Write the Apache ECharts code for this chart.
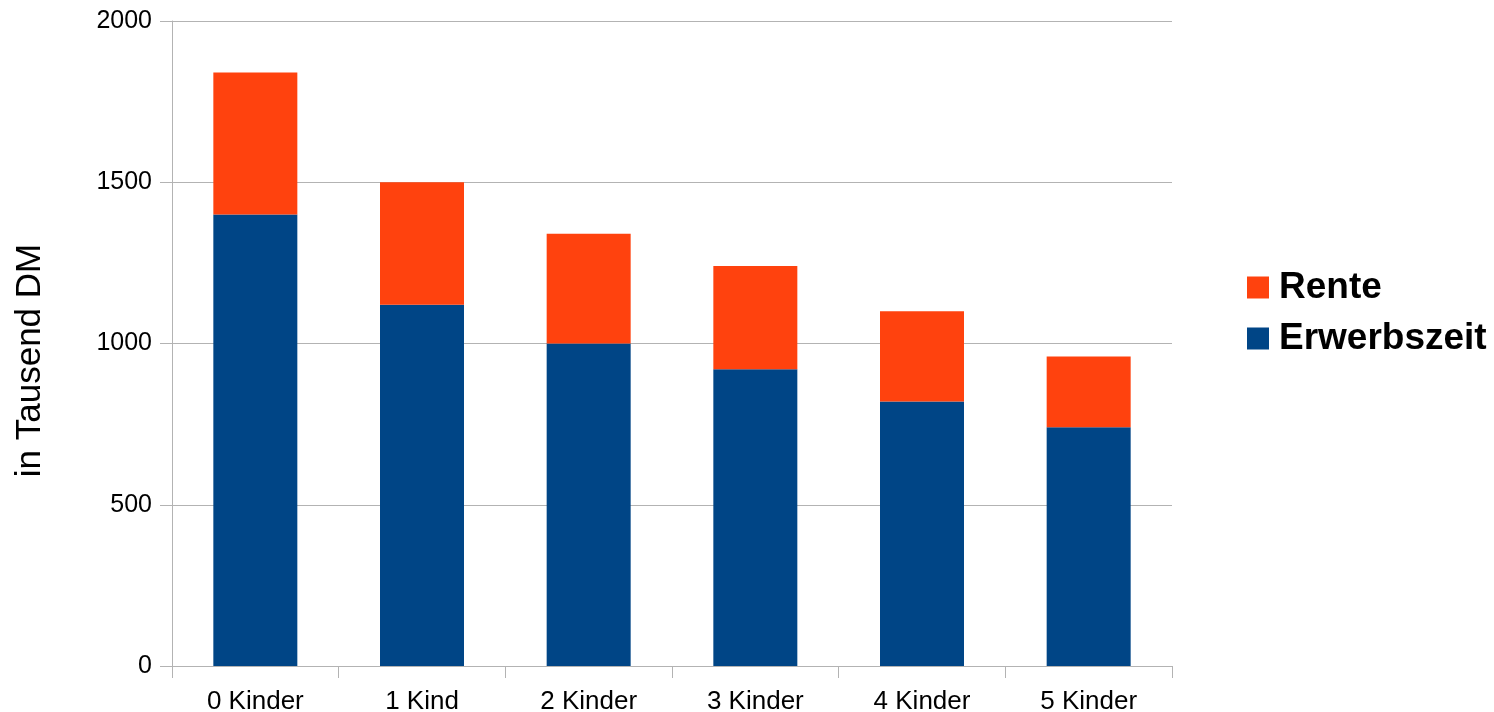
<!DOCTYPE html>
<html><head><meta charset="utf-8">
<script src="https://cdn.jsdelivr.net/npm/echarts@6/dist/echarts.min.js"></script>
<style>html,body{margin:0;padding:0;background:#fff}#c{width:1494px;height:712px}</style>
</head><body><div id="c"></div>
<script>
const categories = ['0 Kinder','1 Kind','2 Kinder','3 Kinder','4 Kinder','5 Kinder'];
const erwerbszeit = [1400,1120,1000,920,820,740];
const rente = [440,380,340,320,280,220];
const yTicks = [0,500,1000,1500,2000];

const chart = echarts.init(document.getElementById('c'), null, {renderer:'canvas'});
const font = 'Liberation Sans, Arial, sans-serif';
chart.setOption({
  animation:false,
  backgroundColor:'#fff',
  grid:{left:172,right:322,top:21,bottom:46,containLabel:false,outerBoundsMode:'none'},
  legend:{
    orient:'vertical', left:1247, top:269, padding:0,
    itemWidth:22, itemHeight:22, itemGap:14,
    data:['Rente','Erwerbszeit'],
    textStyle:{fontFamily:font,fontSize:37,lineHeight:36,fontWeight:'bold',color:'#000',padding:[0,0,0,5]},
    icon:'rect'
  },
  xAxis:{
    type:'category', data:categories,
    axisLine:{lineStyle:{color:'#b3b3b3',width:1}},
    axisTick:{show:true,alignWithLabel:false,length:12,lineStyle:{color:'#b3b3b3'}},
    axisLabel:{fontFamily:font,fontSize:26,color:'#000',margin:23}
  },
  yAxis:{
    type:'value', min:yTicks[0], max:yTicks[yTicks.length-1], interval:500,
    name:'in Tausend DM', nameLocation:'middle', nameGap:124, nameRotate:90,
    nameTextStyle:{fontFamily:font,fontSize:35,color:'#000',padding:[0,34,0,0]},
    axisLine:{show:true,lineStyle:{color:'#b3b3b3'}},
    axisTick:{show:true,length:12,lineStyle:{color:'#b3b3b3'}},
    splitLine:{lineStyle:{color:'#b3b3b3'}},
    axisLabel:{fontFamily:font,fontSize:25,color:'#000',margin:20,formatter:v=>String(v)}
  },
  series:[
    {name:'Erwerbszeit',type:'bar',stack:'a',data:erwerbszeit,barWidth:'50.4%',itemStyle:{color:'#004586'}},
    {name:'Rente',type:'bar',stack:'a',data:rente,barWidth:'50.4%',itemStyle:{color:'#ff420e'}}
  ]
});
</script></body></html>
